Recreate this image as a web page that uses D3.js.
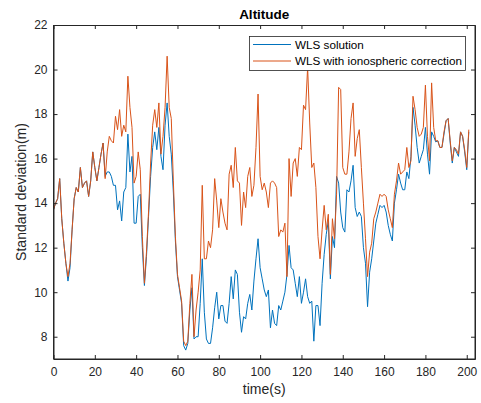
<!DOCTYPE html>
<html><head><meta charset="utf-8">
<script src="https://cdn.jsdelivr.net/npm/d3@7"></script>
<style>body{margin:0;background:#fff}svg{display:block;font-family:"Liberation Sans",Arial,Helvetica,sans-serif}</style>
</head><body><svg id="c" width="481" height="403"></svg>
<script>
const chartTitle = "Altitude";
const xLabel = "time(s)";
const yLabel = "Standard deviation(m)";
const seriesNames = ["WLS solution", "WLS with ionospheric correction"];
const xTicks = [0,20,40,60,80,100,120,140,160,180,200];
const yTicks = [8,10,12,14,16,18,20,22];
const wls = [13.7,14.0,14.2,15.1,13.3,12.2,11.3,10.5,11.1,12.8,14.2,14.7,14.5,15.6,14.7,14.9,15.0,14.3,15.0,16.3,15.6,15.0,15.6,16.2,16.7,
15.2,15.4,15.4,15.2,14.8,14.8,13.7,14.1,13.2,14.5,14.7,17.1,15.4,16.1,13.1,13.1,14.3,14.4,12.0,10.3,
11.6,13.4,15.2,16.5,17.2,16.4,17.4,16.1,15.5,17.5,18.5,17.0,16.2,14.5,12.3,10.7,10.1,9.5,7.6,7.4,7.7,9.2,10.2,7.9,
8.0,8.0,9.5,11.5,9.1,7.9,7.7,7.7,8.4,9.3,10.0,8.8,9.4,9.4,8.7,8.6,9.5,10.7,9.7,11.0,10.8,9.1,8.2,8.9,8.8,9.5,9.9,9.2,10.5,11.5,12.4,
11.1,10.6,10.1,9.8,10.1,8.4,9.2,8.6,8.5,9.4,9.2,9.6,10.0,10.8,12.1,11.1,11.0,10.4,9.8,10.7,9.5,10.0,10.6,9.8,9.5,9.6,7.8,9.4,9.4,8.5,
10.4,11.7,12.6,13.2,10.6,12.5,12.0,15.2,14.9,13.6,12.9,12.7,14.6,14.5,15.0,15.7,13.8,13.4,13.6,13.4,12.0,11.3,9.35,10.9,11.5,12.3,13.1,13.5,13.9,13.8,
13.9,13.6,13.0,12.6,12.3,14.0,14.6,15.3,14.9,14.6,14.6,15.4,15.1,16.1,18.3,17.5,16.5,15.8,16.1,16.4,17.4,16.2,15.3,17.2,17.0,16.75,16.8,16.5,16.5,17.1,
17.7,17.8,16.7,15.8,16.5,16.3,16.1,17.2,17.0,16.3,15.5,17.2];
const wlsIono = [13.7,14.0,14.2,15.1,13.3,12.2,11.3,10.7,11.3,12.8,14.2,14.7,14.5,15.6,14.7,14.9,15.0,14.3,15.0,16.3,15.6,15.0,15.6,16.2,16.7,
15.1,16.3,17.0,16.8,16.7,17.9,17.3,18.2,17.0,17.5,17.2,19.7,18.3,17.4,14.9,15.2,16.3,15.5,12.5,10.4,
11.8,13.6,15.8,17.5,18.2,17.4,18.5,16.2,17.0,18.3,20.6,18.3,17.8,15.0,12.5,10.8,10.2,9.6,7.8,7.6,7.8,9.5,10.8,8.0,
9.2,10.0,11.0,14.8,11.5,11.5,12.3,12.0,12.8,15.1,14.1,12.9,14.2,13.6,13.1,12.8,15.3,15.7,14.7,16.5,15.0,14.9,13.0,14.5,13.8,15.2,15.6,14.3,14.8,16.5,18.9,
15.2,14.6,14.9,14.5,13.8,14.9,15.0,14.9,14.7,12.5,12.8,12.7,13.1,10.7,16.0,14.3,15.8,16.0,15.2,16.5,16.4,18.4,18.2,20.1,17.6,15.6,15.8,14.7,12.5,11.5,
12.8,13.9,12.8,13.5,10.8,13.3,12.4,14.4,19.2,19.1,15.6,15.3,15.3,16.3,17.8,18.5,16.1,16.9,17.3,15.6,14.0,12.4,10.7,11.8,12.2,13.3,13.6,14.0,14.4,14.3,
14.4,14.3,13.7,13.3,12.9,14.4,15.0,15.8,15.3,15.4,15.5,16.5,15.6,15.9,18.8,18.2,17.4,17.0,17.1,17.4,19.3,17.0,15.9,19.4,17.4,16.8,16.8,16.5,16.5,17.2,
17.7,17.8,16.8,15.9,16.5,16.4,16.2,17.2,17.0,16.4,15.6,17.3];
const colors = ["#0072BD", "#D95319"];

const svg = d3.select("#c");
const L = 53.5, R = 475, T = 25, B = 359;
const x = d3.scaleLinear().domain([0, 204]).range([L, R]);
const y = d3.scaleLinear().domain([7, 22]).range([B, T]);
const axisCol = "#262626";
const tl = 4;

// white axes background
svg.append("rect").attr("x", L).attr("y", T).attr("width", R - L).attr("height", B - T).attr("fill", "#fff");

const line = d3.line().x((d, i) => x(i)).y(d => y(d));
[wls, wlsIono].forEach((s, k) => {
  svg.append("path").datum(s).attr("d", line).attr("fill", "none")
    .attr("stroke", colors[k]).attr("stroke-width", 1).attr("stroke-linejoin", "round");
});

// axes
const gx = svg.append("g").attr("transform", `translate(0,${B})`)
  .call(d3.axisBottom(x).tickValues(xTicks).tickSizeInner(-tl).tickSizeOuter(0).tickPadding(8));
const gxt = svg.append("g").attr("transform", `translate(0,${T})`)
  .call(d3.axisTop(x).tickValues(xTicks).tickSizeInner(-tl).tickSizeOuter(0).tickFormat(""));
const gy = svg.append("g").attr("transform", `translate(${L},0)`)
  .call(d3.axisLeft(y).tickValues(yTicks).tickSizeInner(-tl).tickSizeOuter(0).tickPadding(6));
const gyr = svg.append("g").attr("transform", `translate(${R},0)`)
  .call(d3.axisRight(y).tickValues(yTicks).tickSizeInner(-tl).tickSizeOuter(0).tickFormat(""));
[gx, gxt, gy, gyr].forEach(g => {
  g.select(".domain").attr("stroke", axisCol);
  g.selectAll(".tick line").attr("stroke", axisCol);
  g.selectAll("text").attr("fill", axisCol).attr("font-size", 12)
    .attr("font-family", '"Liberation Sans",Arial,sans-serif');
});
svg.append("rect").attr("x", L).attr("y", T + 0.5).attr("width", R - L).attr("height", B - T - 0.5)
  .attr("fill", "none").attr("stroke", axisCol).attr("stroke-width", 1);

// labels
svg.append("text").attr("x", (L + R) / 2).attr("y", 19).attr("text-anchor", "middle")
  .attr("font-size", 13.5).attr("font-weight", "bold").attr("fill", "#000").text(chartTitle);
svg.append("text").attr("x", (L + R) / 2).attr("y", 394).attr("text-anchor", "middle")
  .attr("font-size", 14).attr("fill", axisCol).text(xLabel);
svg.append("text").attr("transform", `translate(26,${(T + B) / 2}) rotate(-90)`).attr("text-anchor", "middle")
  .attr("font-size", 14).attr("fill", axisCol).text(yLabel);

// legend
const lg = svg.append("g");
lg.append("rect").attr("x", 249.5).attr("y", 36.5).attr("width", 216).attr("height", 34)
  .attr("fill", "#fff").attr("stroke", axisCol).attr("stroke-width", 0.8);
seriesNames.forEach((n, k) => {
  const yy = 44.5 + k * 16.5;
  lg.append("line").attr("x1", 253).attr("x2", 291).attr("y1", yy).attr("y2", yy)
    .attr("stroke", colors[k]).attr("stroke-width", 1);
  lg.append("text").attr("x", 295).attr("y", yy + 4).attr("font-size", 11.7).attr("fill", "#000").text(n);
});
</script></body></html>
